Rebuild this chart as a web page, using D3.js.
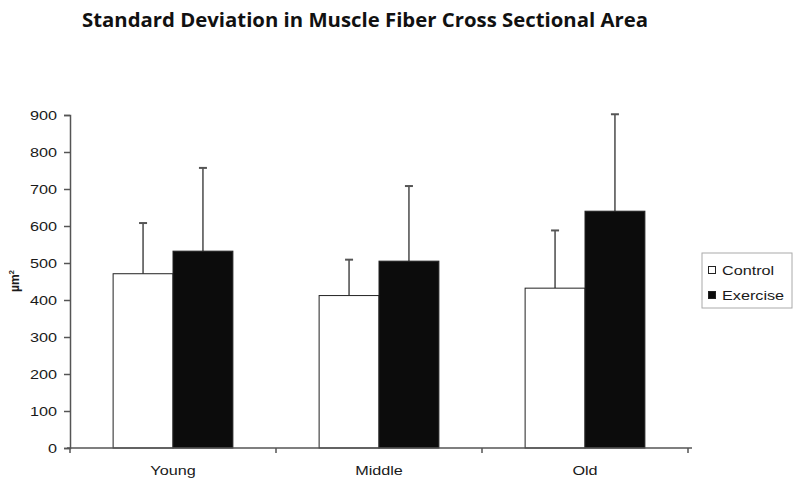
<!DOCTYPE html>
<html><head><meta charset="utf-8">
<script src="https://cdn.jsdelivr.net/npm/d3@7"></script>
<style>body{margin:0;background:#fff}svg{display:block}</style>
</head><body>
<script>
const categories = ["Young", "Middle", "Old"];
const seriesNames = ["Control", "Exercise"];
const controlMean = [471, 412, 432];
const controlSD = [137, 97, 156];
const exerciseMean = [532, 505, 640];
const exerciseSD = [225, 203, 262];
const yTicks = [0, 100, 200, 300, 400, 500, 600, 700, 800, 900];

(function () {
const W = 800, H = 489;
const svg = d3.select("body").append("svg").attr("width", W).attr("height", H);
const mL = 70, mR = 688, mT = 115, mB = 448;
const FONT = "Liberation Sans, Arial, sans-serif";
const stretch = sel => sel.each(function () {
  const L = this.getComputedTextLength();
  d3.select(this).attr("textLength", L * 1.2).attr("lengthAdjust", "spacingAndGlyphs");
});

const x = d3.scaleBand().domain(categories).range([mL, mR]).paddingInner(0).paddingOuter(0);
const xs = d3.scaleBand().domain(seriesNames).range([0, x.bandwidth()]).paddingInner(0).paddingOuter(0.72);
const y = d3.scaleLinear().domain([0, 900]).range([mB, mT]);

const data = categories.map((c, i) => ({c, vals: [
  {s: "Control", m: controlMean[i], sd: controlSD[i]},
  {s: "Exercise", m: exerciseMean[i], sd: exerciseSD[i]}
]}));

const g = svg.append("g");
const grp = g.selectAll("g.cat").data(data).join("g").attr("class", "cat").attr("transform", d => `translate(${x(d.c)},0)`);
grp.selectAll("line.err").data(d => d.vals).join("line").attr("class", "err")
  .attr("x1", d => xs(d.s) + xs.bandwidth()/2).attr("x2", d => xs(d.s) + xs.bandwidth()/2)
  .attr("y1", d => y(d.m)).attr("y2", d => y(d.m + d.sd))
  .attr("stroke", "#555").attr("stroke-width", 1.6);
grp.selectAll("line.cap").data(d => d.vals).join("line").attr("class", "cap")
  .attr("x1", d => xs(d.s) + xs.bandwidth()/2 - 4).attr("x2", d => xs(d.s) + xs.bandwidth()/2 + 4)
  .attr("y1", d => y(d.m + d.sd)).attr("y2", d => y(d.m + d.sd))
  .attr("stroke", "#555").attr("stroke-width", 2);
grp.selectAll("rect").data(d => d.vals).join("rect")
  .attr("x", d => xs(d.s)).attr("width", xs.bandwidth())
  .attr("y", d => y(d.m)).attr("height", d => y(0) - y(d.m))
  .attr("fill", d => d.s === "Control" ? "#fff" : "#0c0c0c")
  .attr("stroke", "#222").attr("stroke-width", 1);

const yAxis = svg.append("g").attr("transform", `translate(${mL},0)`)
  .call(d3.axisLeft(y).tickValues(yTicks).tickSize(6).tickPadding(7));
const xAxis = svg.append("g").attr("transform", `translate(0,${mB})`)
  .call(d3.axisBottom(x).tickSize(0).tickPadding(17));
xAxis.selectAll("line.bt").data([mL, ...categories.map(c => x(c) + x.bandwidth())]).join("line")
  .attr("class", "bt").attr("x1", d => d).attr("x2", d => d).attr("y1", 0).attr("y2", 5)
  .attr("stroke", "#555").attr("stroke-width", 1.5);
[yAxis, xAxis].forEach(a => {
  a.select(".domain").attr("stroke", "#555").attr("stroke-width", 1.5);
  a.selectAll(".tick line").attr("stroke", "#555").attr("stroke-width", 1.5);
  a.selectAll("text").attr("font-family", FONT).attr("font-size", 13.5).attr("fill", "#1a1a1a").call(stretch);
});
xAxis.select(".domain").attr("d", `M${mL-3},0H${mR+4}`);

svg.append("text").attr("transform", "translate(19,281) rotate(-90)")
  .attr("text-anchor", "middle").attr("font-family", FONT)
  .attr("font-weight", "bold").attr("font-size", 12).attr("fill", "#1a1a1a")
  .html('µm<tspan dy="-5" font-size="8">2</tspan>');

svg.append("text").attr("x", 82).attr("y", 27)
  .attr("font-family", "Open Sans, sans-serif").attr("font-weight", "bold").attr("font-size", 20)
  .attr("textLength", 566).attr("lengthAdjust", "spacingAndGlyphs").attr("fill", "#111")
  .text("Standard Deviation in Muscle Fiber Cross Sectional Area");

const lg = svg.append("g");
lg.append("rect").attr("x", 702).attr("y", 253).attr("width", 90).attr("height", 55)
  .attr("fill", "#fff").attr("stroke", "#aaa").attr("stroke-width", 1);
seriesNames.forEach((s, i) => {
  const yy = 275 + i * 25;
  lg.append("rect").attr("x", 708.5).attr("y", yy - 8.5).attr("width", 7).attr("height", 7)
    .attr("fill", s === "Control" ? "#fff" : "#0c0c0c").attr("stroke", "#222").attr("stroke-width", 1);
  lg.append("text").attr("x", 722).attr("y", yy).attr("font-family", FONT)
    .attr("font-size", 13.5).attr("fill", "#1a1a1a").text(s).call(stretch);
});
})();
</script>
</body></html>
